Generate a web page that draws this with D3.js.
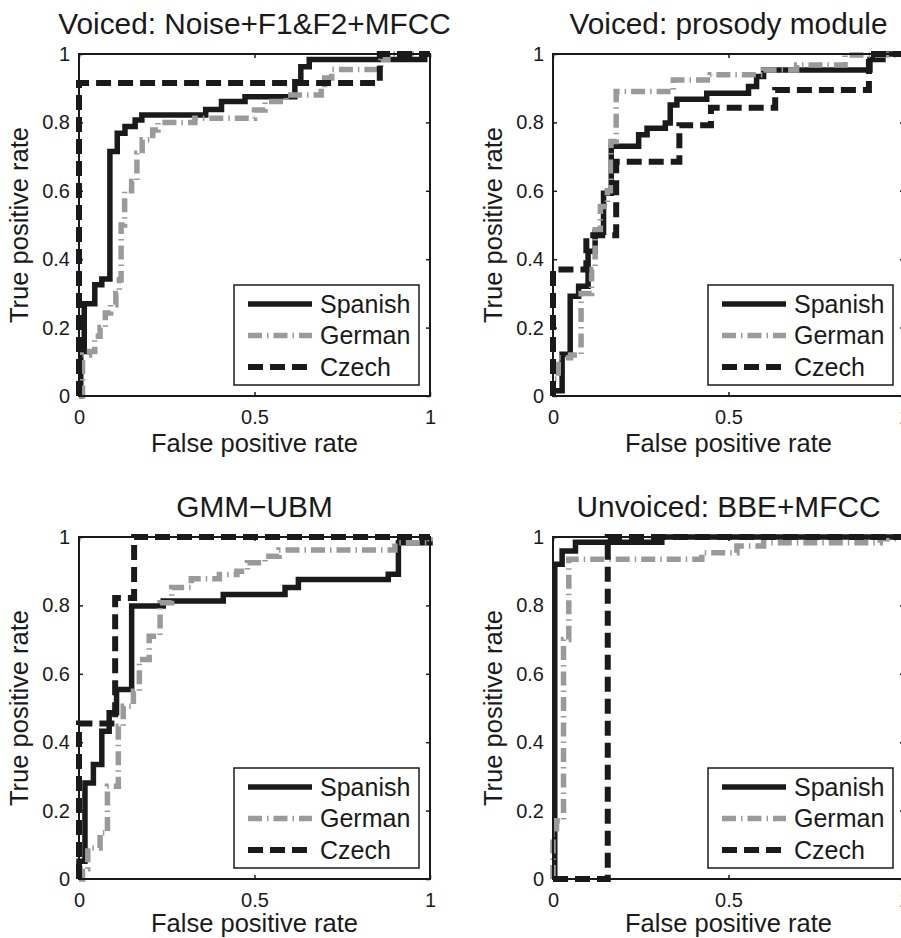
<!DOCTYPE html>
<html>
<head>
<meta charset="utf-8">
<script src="https://cdn.jsdelivr.net/npm/d3@7"></script>
<style>
  body { margin: 0; background: #fff; }
  text { font-family: "Liberation Sans", Arial, Helvetica, sans-serif; fill: #1a1a1a; }
</style>
</head>
<body>
<svg></svg>
<script>
// panel titles
const titles = ['Voiced: Noise+F1&F2+MFCC', 'Voiced: prosody module', 'GMM\u2212UBM', 'Unvoiced: BBE+MFCC'];
const languages = ['Spanish', 'German', 'Czech'];
const xTicks = [0, 0.5, 1],
    yTicks = [0, 0.2, 0.4, 0.6, 0.8, 1];

// ROC points [false positive rate, true positive rate]
const noiseSpanish = [[0,0],[0.005,0.13],[0.015,0.27],[0.045,0.325],[0.065,0.342],[0.088,0.715],[0.109,0.768],[0.131,0.788],[0.16,0.807],[0.179,0.822],[0.361,0.838],[0.406,0.861],[0.473,0.875],[0.615,0.919],[0.632,0.963],[0.656,0.984],[0.985,1],[1,1]];
const noiseGerman = [[0,0],[0.01,0.12],[0.03,0.13],[0.045,0.175],[0.06,0.2],[0.075,0.243],[0.09,0.267],[0.105,0.3],[0.115,0.34],[0.12,0.5],[0.13,0.6],[0.15,0.627],[0.165,0.71],[0.18,0.749],[0.21,0.778],[0.225,0.8],[0.33,0.812],[0.5,0.836],[0.53,0.861],[0.59,0.88],[0.69,0.9],[0.7,0.93],[0.72,0.955],[0.86,0.985],[0.88,1],[1,1]];
const noiseCzech = [[0,0],[0,0.915],[0.857,1],[1,1]];

const prosodySpanish = [[0,0],[0,0.015],[0.026,0.122],[0.049,0.292],[0.073,0.321],[0.1,0.423],[0.12,0.479],[0.144,0.593],[0.166,0.73],[0.244,0.764],[0.268,0.783],[0.32,0.798],[0.334,0.851],[0.353,0.868],[0.438,0.885],[0.557,0.905],[0.58,0.934],[0.6,0.953],[0.903,0.984],[0.94,1],[1,1]];
const prosodyGerman = [[0,0],[0,0.05],[0.015,0.112],[0.05,0.12],[0.08,0.3],[0.11,0.37],[0.12,0.486],[0.135,0.554],[0.155,0.6],[0.165,0.744],[0.18,0.89],[0.343,0.924],[0.448,0.939],[0.6,0.953],[0.694,0.968],[0.832,0.997],[1,1]];
const prosodyCzech = [[0,0],[0,0.37],[0.095,0.47],[0.18,0.685],[0.36,0.792],[0.45,0.843],[0.633,0.895],[0.9,1],[1,1]];

const gmmSpanish = [[0,0],[0,0.052],[0.017,0.281],[0.041,0.335],[0.065,0.432],[0.086,0.486],[0.107,0.554],[0.15,0.798],[0.24,0.813],[0.411,0.832],[0.587,0.852],[0.625,0.876],[0.881,0.891],[0.91,0.983],[1,0.99]];
const gmmGerman = [[0,0],[0.01,0.03],[0.025,0.091],[0.06,0.135],[0.081,0.271],[0.112,0.447],[0.126,0.505],[0.155,0.549],[0.172,0.642],[0.2,0.71],[0.231,0.808],[0.264,0.852],[0.32,0.878],[0.4,0.89],[0.45,0.9],[0.48,0.925],[0.53,0.944],[0.57,0.962],[0.9,0.983],[1,1]];
const gmmCzech = [[0,0],[0,0.455],[0.103,0.822],[0.157,1],[1,1]];

const bbeSpanish = [[0,0],[0.005,0.92],[0.026,0.959],[0.064,0.985],[0.31,1],[1,1]];
const bbeGerman = [[0,0],[0,0.13],[0.01,0.17],[0.03,0.7],[0.045,0.935],[0.424,0.954],[0.524,0.974],[0.6,0.983],[0.932,0.995],[1,1]];
const bbeCzech = [[0,0],[0.156,0],[0.156,1],[1,1]];

const panelData = [
    [noiseSpanish, noiseGerman, noiseCzech],
    [prosodySpanish, prosodyGerman, prosodyCzech],
    [gmmSpanish, gmmGerman, gmmCzech],
    [bbeSpanish, bbeGerman, bbeCzech]
];

// line styles per language
const styles = [
    {color: '#1a1a1a', width: 5.5, dash: null},
    {color: '#9a9a9a', width: 5.5, dash: '14,5,1.5,5'},
    {color: '#1a1a1a', width: 6, dash: '15,7'}
];

const svg = d3.select('svg')
    .attr('width', 901)
    .attr('height', 938);

// plot area of each panel (left, top), and gap from plot bottom to x label baseline
const plotW = 351, plotH = 342;
const origins = [[79, 54], [553, 54], [79, 537], [553, 537]];
const xLabelGap = [56, 56, 53, 53];

const x = d3.scaleLinear().domain([0, 1]).range([0, plotW]);
const y = d3.scaleLinear().domain([0, 1]).range([plotH, 0]);

const line = d3.line()
    .x(d => x(d[0]))
    .y(d => y(d[1]))
    .curve(d3.curveStepAfter);

panelData.forEach((series, i) => {
    const g = svg.append('g')
        .attr('transform', `translate(${origins[i][0]},${origins[i][1]})`);

    // ticks on all four sides, pointing in
    const tickAxes = [
        [d3.axisBottom(x).tickValues(xTicks).tickFormat(d => d), `translate(0,${plotH})`],
        [d3.axisTop(x).tickValues(xTicks).tickFormat(''), 'translate(0,0)'],
        [d3.axisLeft(y).tickValues(yTicks).tickFormat(d => d), 'translate(0,0)'],
        [d3.axisRight(y).tickValues(yTicks).tickFormat(''), `translate(${plotW},0)`]
    ];
    tickAxes.forEach(([ax, tr], n) => {
        const a = g.append('g').attr('transform', tr)
            .call(ax.tickSizeInner(-4).tickSizeOuter(0).tickPadding(9));
        a.select('.domain').remove();
        a.selectAll('line').attr('stroke', '#1a1a1a').attr('stroke-width', 1.5);
        a.selectAll('text').style('font-size', '20px').attr('fill', '#1a1a1a');
        if (n === 0) a.selectAll('text').attr('dy', '0.95em');
    });

    // curves
    series.forEach((pts, k) => {
        g.append('path')
            .datum(pts)
            .attr('d', line)
            .attr('fill', 'none')
            .attr('stroke', styles[k].color)
            .attr('stroke-width', styles[k].width)
            .attr('stroke-dasharray', styles[k].dash);
    });

    // frame
    g.append('rect')
        .attr('width', plotW).attr('height', plotH)
        .attr('fill', 'none').attr('stroke', '#1a1a1a').attr('stroke-width', 2);

    // title and axis labels
    g.append('text')
        .attr('x', plotW / 2).attr('y', -20)
        .attr('text-anchor', 'middle')
        .style('font-size', '29.8px')
        .text(titles[i]);
    g.append('text')
        .attr('x', plotW / 2).attr('y', plotH + xLabelGap[i])
        .attr('text-anchor', 'middle')
        .style('font-size', '25.5px')
        .text('False positive rate');
    g.append('text')
        .attr('transform', `translate(-51,${plotH / 2}) rotate(-90)`)
        .attr('text-anchor', 'middle')
        .style('font-size', '25.5px')
        .text('True positive rate');

    // legend
    const lw = 185, lh = 100;
    const lg = g.append('g')
        .attr('transform', `translate(${plotW - 11 - lw},${plotH - 11 - lh})`);
    lg.append('rect')
        .attr('width', lw).attr('height', lh)
        .attr('fill', '#fff').attr('stroke', '#1a1a1a').attr('stroke-width', 1.5);
    languages.forEach((name, k) => {
        const ry = 19 + k * 31.5;
        lg.append('line')
            .attr('x1', 14).attr('x2', 78)
            .attr('y1', ry).attr('y2', ry)
            .attr('stroke', styles[k].color)
            .attr('stroke-width', styles[k].width)
            .attr('stroke-dasharray', styles[k].dash);
        lg.append('text')
            .attr('x', 86).attr('y', ry)
            .attr('dy', '0.35em')
            .style('font-size', '25px')
            .text(name);
    });
});
</script>
</body>
</html>
